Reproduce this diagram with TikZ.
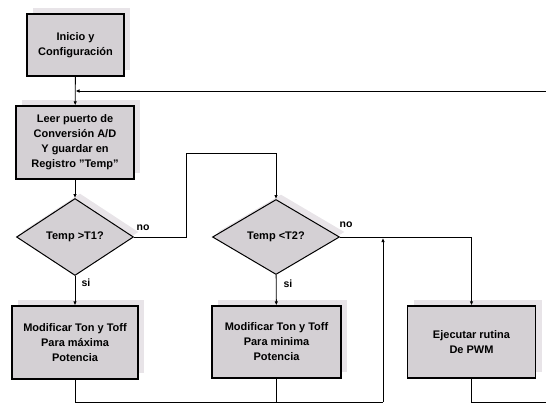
\documentclass[tikz,border=0pt]{standalone}
\usepackage{fontspec}
\setmainfont{Liberation Sans}
\usetikzlibrary{shapes.geometric,shadows,arrows.meta}

\definecolor{cajagris}{RGB}{212,208,212}
\definecolor{sombragris}{RGB}{232,228,232}

\tikzset{
  caja/.style={draw=black, line width=1.3pt, fill=cajagris, align=center,
    font=\fontsize{11}{15}\selectfont\bfseries, inner sep=2pt,
    general shadow={fill=sombragris, shadow xshift=6pt, shadow yshift=6pt}},
  rombo/.style={diamond, draw=black, line width=1pt, fill=cajagris, inner sep=0pt,
    font=\fontsize{11}{15}\selectfont\bfseries,
    general shadow={fill=sombragris, shadow xshift=5pt, shadow yshift=5pt}},
  flecha/.style={-{Latex[length=4pt,width=3.5pt]}, line width=0.9pt},
  linea/.style={line width=0.9pt},
  etiq/.style={font=\fontsize{10.5}{12}\selectfont\bfseries}
}

\begin{document}
\begin{tikzpicture}[x=1pt,y=-1pt]
\useasboundingbox (0,0) rectangle (546,404);

% bloques
\node[caja, minimum width=97pt, minimum height=62pt] (ini) at (75.5,45) {Inicio y\\Configuración};
\node[caja, minimum width=118pt, minimum height=73pt] (leer) at (75,142.5) {Leer puerto de\\Conversión A/D\\Y guardar en\\Registro "Temp"};
\node[rombo, minimum width=117pt, minimum height=77pt] (d1) at (75,237) {Temp >T1?};
\node[rombo, minimum width=127pt, minimum height=75pt] (d2) at (276,237) {Temp <T2?};
\node[caja, minimum width=126pt, minimum height=73pt] (mod1) at (75,342.5) {Modificar Ton y Toff\\Para máxima\\Potencia};
\node[caja, minimum width=129pt, minimum height=72pt] (mod2) at (276.5,342) {Modificar Ton y Toff\\Para minima\\Potencia};
\node[caja, minimum width=128pt, minimum height=72pt] (pwm) at (471.5,342) {Ejecutar rutina\\De PWM};

% puntos de paso
\coordinate (ret) at (546,91);
\coordinate (c1) at (186,153);
\coordinate (bot) at (383,402);
\coordinate (sube) at (383,238);
\coordinate (fin) at (546,402);

% etiquetas
\node[etiq] (no1) at (143,228) {no};
\node[etiq] (no2) at (346,225) {no};
\node[etiq] (si1) at (86,283) {si};
\node[etiq] (si2) at (288,284) {si};

% conectores
\draw[flecha] (ini) -- (leer);
\draw[flecha] (ret) -- (ini.south |- ret);
\draw[flecha] (leer) -- (d1);
\draw[flecha] (d1.east) -| (c1) -| (d2.north);
\draw[flecha] (d1) -- (mod1);
\draw[flecha] (d2) -- (mod2);
\draw[flecha] (d2.east) -| (pwm.north);
\draw[linea] (mod1.south) |- (bot);
\draw[linea] (mod2.south) -- (mod2.south |- bot);
\draw[flecha] (bot) -- (sube);
\draw[linea] (pwm.south) |- (fin);
\end{tikzpicture}
\end{document}
